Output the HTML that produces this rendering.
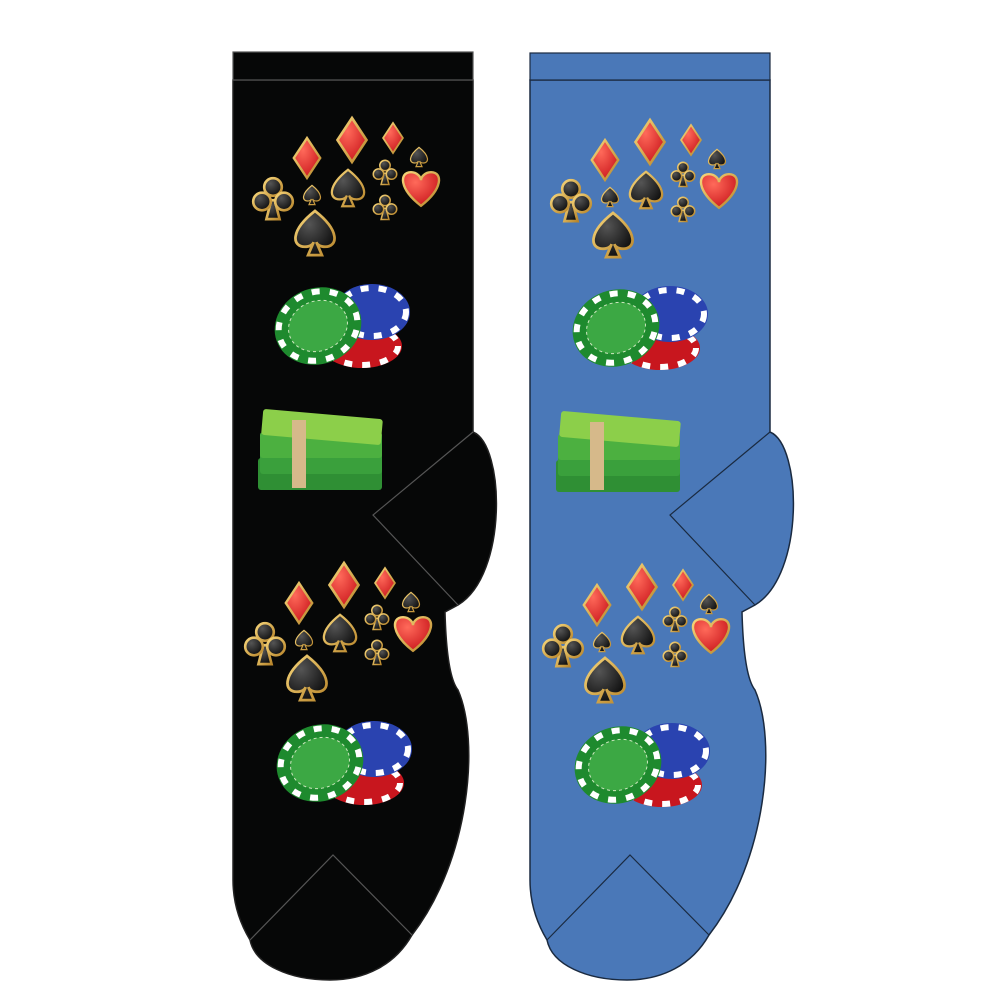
<!DOCTYPE html>
<html><head><meta charset="utf-8"><style>html,body{margin:0;padding:0;background:#fff}svg{display:block}</style></head>
<body>
<svg width="1000" height="1000" viewBox="0 0 1000 1000" xmlns="http://www.w3.org/2000/svg">
<defs>
  <linearGradient id="gold" x1="0" y1="0" x2="1" y2="1"><stop offset="0" stop-color="#f6d57a"/><stop offset="1" stop-color="#b8862c"/></linearGradient>
  <radialGradient id="red" cx="0.35" cy="0.3" r="0.8"><stop offset="0" stop-color="#ff6a5a"/><stop offset="1" stop-color="#c8141a"/></radialGradient>
  <radialGradient id="blk" cx="0.35" cy="0.3" r="0.8"><stop offset="0" stop-color="#555"/><stop offset="1" stop-color="#080808"/></radialGradient>
  <path id="dia" d="M0,-0.5 L0.33,0 L0,0.5 L-0.33,0Z" fill="url(#red)" stroke="url(#gold)" stroke-width="0.06"/>
  <path id="hrt" d="M0,0.42 C-0.55,0 -0.55,-0.42 -0.25,-0.42 C-0.1,-0.42 0,-0.3 0,-0.22 C0,-0.3 0.1,-0.42 0.25,-0.42 C0.55,-0.42 0.55,0 0,0.42Z" fill="url(#red)" stroke="url(#gold)" stroke-width="0.06"/>
  <path id="spd" d="M0,-0.48 C-0.55,-0.05 -0.5,0.3 -0.22,0.3 C-0.1,0.3 -0.04,0.24 -0.03,0.2 L-0.15,0.48 L0.15,0.48 L0.03,0.2 C0.04,0.24 0.1,0.3 0.22,0.3 C0.5,0.3 0.55,-0.05 0,-0.48Z" fill="url(#blk)" stroke="url(#gold)" stroke-width="0.06"/>
  <g id="clb" fill="url(#blk)" stroke="url(#gold)" stroke-width="0.06">
    <path d="M-0.04,0.05 L-0.15,0.48 L0.15,0.48 L0.04,0.05Z"/>
    <circle cx="0" cy="-0.25" r="0.2"/><circle cx="-0.25" cy="0.08" r="0.2"/><circle cx="0.25" cy="0.08" r="0.2"/>
  </g>
  <g id="suits">
    <use href="#dia" transform="translate(307,158) scale(40)"/>
    <use href="#dia" transform="translate(352,140) scale(44)"/>
    <use href="#dia" transform="translate(393,138) scale(30)"/>
    <use href="#spd" transform="translate(419,157) scale(20)"/>
    <use href="#clb" transform="translate(273,198) scale(44)"/>
    <use href="#spd" transform="translate(312,195) scale(20)"/>
    <use href="#spd" transform="translate(348,188) scale(38)"/>
    <use href="#clb" transform="translate(385,172) scale(26)"/>
    <use href="#clb" transform="translate(385,207) scale(26)"/>
    <use href="#hrt" transform="translate(421,189) scale(40)"/>
    <use href="#spd" transform="translate(315,233) scale(46)"/>
  </g>
  <g id="chips">
    <ellipse cx="362" cy="346" rx="40" ry="22" fill="#c8161e"/>
    <ellipse cx="362" cy="346" rx="36" ry="19" fill="none" stroke="#fff" stroke-width="6" stroke-dasharray="8 10"/>
    <ellipse cx="372" cy="312" rx="38" ry="28" fill="#2a43b0"/>
    <ellipse cx="372" cy="312" rx="34" ry="24" fill="none" stroke="#fff" stroke-width="6" stroke-dasharray="8 10"/>
    <ellipse cx="318" cy="326" rx="44" ry="38" transform="rotate(-20 318 326)" fill="#1e8a2e"/>
    <ellipse cx="318" cy="326" rx="40" ry="34" transform="rotate(-20 318 326)" fill="none" stroke="#fff" stroke-width="6" stroke-dasharray="8 10"/>
    <ellipse cx="318" cy="326" rx="30" ry="25" transform="rotate(-20 318 326)" fill="#3ca844" stroke="#cfe8c0" stroke-width="1" stroke-dasharray="3 3"/>
  </g>
  <g id="money">
    <rect x="258" y="458" width="124" height="32" rx="3" fill="#2f8f34"/>
    <rect x="260" y="446" width="122" height="28" rx="3" fill="#3aa03c"/>
    <rect x="260" y="432" width="122" height="26" rx="3" fill="#4cb040"/>
    <rect x="262" y="414" width="120" height="26" rx="3" fill="#8ccf4a" transform="rotate(5 322 427)"/>
    <rect x="292" y="420" width="14" height="68" fill="#d6b98a"/>
  </g>
  <g id="art">
    <use href="#suits"/>
    <use href="#chips"/>
    <use href="#money"/>
    <use href="#suits" transform="translate(-8,445)"/>
    <use href="#chips" transform="translate(2,437)"/>
  </g>
  <path id="sock" d="M233,80 L473,80 L473,432 C505,445 508,575 458,605 L445,612 C446,650 450,680 458,690 C480,740 470,860 412,935 C395,965 365,980 330,980 C290,980 255,965 250,940 C238,920 233,900 233,880 Z"/>
</defs>

<!-- black sock -->
<use href="#sock" fill="#060707" stroke="#222" stroke-width="1.5"/>
<rect x="233" y="52" width="240" height="28" fill="#060707" stroke="#555" stroke-width="1.2"/>
<polyline points="473,432 373,515 458,605" fill="none" stroke="#555" stroke-width="1.2"/>
<polyline points="250,940 333,855 412,935" fill="none" stroke="#555" stroke-width="1.2"/>
<use href="#art"/>

<!-- blue sock -->
<g transform="translate(297,0)">
  <use href="#sock" fill="#4a78b8" stroke="#1a2a40" stroke-width="1.5"/>
  <rect x="233" y="53" width="240" height="27" fill="#4a78b8" stroke="#1a2a40" stroke-width="1.2"/>
  <polyline points="473,432 373,515 458,605" fill="none" stroke="#1a2a40" stroke-width="1.2"/>
  <polyline points="250,940 333,855 412,935" fill="none" stroke="#1a2a40" stroke-width="1.2"/>
  <use href="#art" transform="translate(1,2)"/>
</g>
</svg>
</body></html>
